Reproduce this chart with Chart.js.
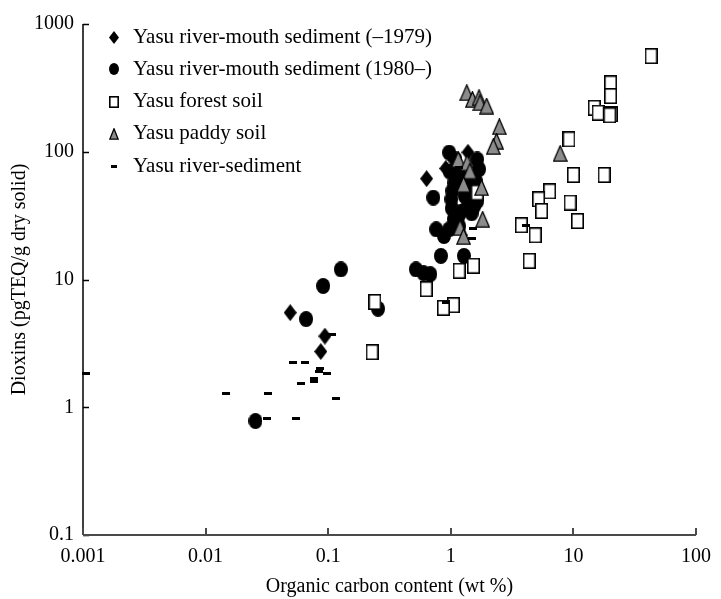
<!DOCTYPE html>
<html>
<head>
<meta charset="utf-8">
<script src="https://cdn.jsdelivr.net/npm/chart.js@4.4.1/dist/chart.umd.min.js"></script>
<style>
  html, body { margin: 0; padding: 0; background: #fff; }
  #wrap { width: 721px; height: 599px; position: relative; }
</style>
</head>
<body>
<div id="wrap"><canvas id="chart"></canvas></div>
<script>
// Axis ticks (decades only)
const xTicks = [0.001, 0.01, 0.1, 1, 10, 100];
const xTickLabels = ["0.001", "0.01", "0.1", "1", "10", "100"];
const yTicks = [0.1, 1, 10, 100, 1000];
const yTickLabels = ["0.1", "1", "10", "100", "1000"];

// Yasu river-mouth sediment (–1979)
const mouthOldX = [0.049, 0.094, 0.087, 0.635, 0.91, 1.38, 1.1];
const mouthOldY = [5.5, 3.6, 2.73, 61.6, 74, 99, 70];

// Yasu river-mouth sediment (1980–)
const mouthNewX = [0.0255, 0.066, 0.091, 0.127, 0.255,
  0.52, 0.6, 0.68, 0.72, 1.01, 0.76, 0.88, 0.83, 1.28,
  0.97, 1.09, 1.64, 1.7, 1.6, 1.24, 1.07, 1.03, 0.98,
  1.06, 1.2, 1.36, 1.55, 1.64, 0.97, 1.17, 1.3, 1.44, 1.15, 1.48, 1.02];
const mouthNewY = [0.78, 4.9, 8.9, 12.0, 5.9,
  12.0, 11.2, 11.0, 43.7, 42.4, 24.7, 21.9, 15.3, 15.3,
  98.5, 87, 87, 73, 59, 62.9, 57, 49.3, 70,
  29.6, 33.6, 36.7, 37.5, 41, 24.7, 26.1, 45, 53.7, 31, 33, 36];

// Yasu forest soil
const forestX = [43, 20.1, 20.1, 14.8, 15.9, 20.3, 19.8, 9.2, 10, 17.8, 6.4, 5.2, 5.5,
  9.4, 10.8, 3.76, 4.88, 4.36, 1.64, 1.53, 1.17, 0.63, 1.05, 0.87, 0.24, 0.228];
const forestY = [561, 343, 273, 221, 202, 196, 193, 125, 65.8, 65.8, 49, 42.4, 34.4,
  40, 28.7, 26.6, 22.2, 14, 47.9, 12.8, 11.7, 8.4, 6.3, 6.0, 6.67, 2.7];

// Yasu paddy soil
const paddyX = [1.35, 1.5, 1.7, 1.73, 1.96, 2.49, 2.36, 2.22, 7.8, 1.15, 1.36, 1.43,
  1.27, 1.78, 1.82, 1.19, 1.27];
const paddyY = [290, 257, 265, 242, 228, 157, 121, 110, 97, 87, 82, 70.6,
  55.6, 52.4, 29.6, 25.5, 21.7];

// Yasu river-sediment
const riverX = [0.00106, 0.0146, 0.032, 0.0318, 0.0546, 0.052, 0.065, 0.086, 0.084,
  0.098, 0.076, 0.076, 0.06, 0.115, 0.107, 4.1, 1.53, 1.5, 1.17, 0.91];
const riverY = [1.84, 1.29, 1.29, 0.81, 0.81, 2.26, 2.26, 2.0, 1.9,
  1.84, 1.69, 1.6, 1.54, 1.18, 3.68, 26.6, 25.2, 20.9, 75, 6.6];

const serif = "'Liberation Serif', 'Times New Roman', serif";

// small canvases used as point images
function makeMarker(w, h, paint) {
  const c = document.createElement("canvas");
  c.width = w;
  c.height = h;
  paint(c.getContext("2d"), w, h);
  return c;
}
const diamond = (w, h) => makeMarker(w, h, (g) => {
  g.fillStyle = "#000";
  g.beginPath();
  g.moveTo(w / 2, 0); g.lineTo(w, h / 2); g.lineTo(w / 2, h); g.lineTo(0, h / 2);
  g.closePath();
  g.fill();
});
const dot = (w, h) => makeMarker(w, h, (g) => {
  g.fillStyle = "#000";
  g.beginPath();
  g.ellipse(w / 2, h / 2, w / 2, h / 2, 0, 0, Math.PI * 2);
  g.fill();
});
const box = (w, h) => makeMarker(w, h, (g) => {
  g.fillStyle = "#fff";
  g.fillRect(0, 0, w, h);
  g.strokeStyle = "#000";
  g.lineWidth = 1.6;
  g.strokeRect(0.8, 0.8, w - 1.6, h - 1.6);
});
const tri = (w, h) => makeMarker(w, h, (g) => {
  g.fillStyle = "#8c8c8c";
  g.strokeStyle = "#000";
  g.lineWidth = 1.3;
  g.beginPath();
  g.moveTo(w / 2, 0.8); g.lineTo(w - 0.8, h - 0.8); g.lineTo(0.8, h - 0.8);
  g.closePath();
  g.fill();
  g.stroke();
});
const dash = (w, h) => makeMarker(w, h, (g) => {
  g.fillStyle = "#000";
  g.fillRect(0, 0, w, h);
});

const pts = (xs, ys) => xs.map((x, i) => ({ x, y: ys[i] }));

const series = [
  { label: "Yasu river-mouth sediment (\u20131979)", data: pts(mouthOldX, mouthOldY), pointStyle: diamond(13, 17), order: 3, key: diamond(10, 13) },
  { label: "Yasu river-mouth sediment (1980\u2013)", data: pts(mouthNewX, mouthNewY), pointStyle: dot(14, 16), order: 4, key: dot(10, 12) },
  { label: "Yasu forest soil", data: pts(forestX, forestY), pointStyle: box(13, 16), order: 2, key: box(10, 12) },
  { label: "Yasu paddy soil", data: pts(paddyX, paddyY), pointStyle: tri(15, 17), order: 1, key: tri(10, 12) },
  { label: "Yasu river-sediment", data: pts(riverX, riverY), pointStyle: dash(8, 3), order: 0, key: dash(6, 3) }
];

// axis lines and inward tick marks
const axesPlugin = {
  id: "axesPlugin",
  afterDraw(chart) {
    const { ctx, chartArea: a, scales } = chart;
    ctx.save();
    ctx.strokeStyle = "#000";
    ctx.lineWidth = 1.5;
    ctx.beginPath();
    ctx.moveTo(a.left, a.top); ctx.lineTo(a.left, a.bottom);
    yTicks.forEach((v) => {
      const y = Math.round(scales.y.getPixelForValue(v)) + 0.5;
      ctx.moveTo(a.left, y); ctx.lineTo(a.left + 6, y);
    });
    ctx.stroke();
    ctx.strokeStyle = "#4a4a4a";
    ctx.lineWidth = 2;
    ctx.beginPath();
    ctx.moveTo(a.left, a.bottom); ctx.lineTo(a.right, a.bottom);
    xTicks.forEach((v) => {
      const x = Math.round(scales.x.getPixelForValue(v));
      ctx.moveTo(x, a.bottom); ctx.lineTo(x, a.bottom - 7);
    });
    ctx.stroke();
    ctx.restore();
  }
};

// legend in the upper left of the plot
const keyPlugin = {
  id: "keyPlugin",
  afterDraw(chart) {
    const { ctx, chartArea: a } = chart;
    ctx.save();
    ctx.font = "21px " + serif;
    ctx.fillStyle = "#000";
    ctx.textBaseline = "middle";
    series.forEach((s, i) => {
      const y = a.top + 13 + i * 32.3;
      const img = s.key;
      ctx.drawImage(img, Math.round(a.left + 31 - img.width / 2), Math.round(y - img.height / 2));
      ctx.fillText(s.label, a.left + 50, y);
    });
    ctx.restore();
  }
};

new Chart(document.getElementById("chart"), {
  type: "scatter",
  data: {
    datasets: series.map((s) => ({
      label: s.label,
      data: s.data,
      pointStyle: s.pointStyle,
      pointRadius: 6,
      order: s.order,
      clip: false
    }))
  },
  options: {
    responsive: true,
    maintainAspectRatio: false,
    animation: false,
    events: [],
    layout: { padding: { top: 24, right: 21, left: 0, bottom: 0 } },
    plugins: { legend: { display: false }, tooltip: { enabled: false } },
    scales: {
      x: {
        type: "logarithmic",
        min: 0.001,
        max: 100,
        afterBuildTicks: (s) => { s.ticks = xTicks.map((v) => ({ value: v })); },
        afterFit: (s) => { s.height = 64; },
        grid: { display: false, drawTicks: false },
        border: { display: false },
        ticks: {
          color: "#000",
          font: { family: serif, size: 20 },
          padding: 10,
          maxRotation: 0,
          autoSkip: false,
          callback: (v, i) => xTickLabels[i]
        },
        title: {
          display: true,
          text: "Organic carbon content (wt %)",
          color: "#000",
          font: { family: serif, size: 20 },
          padding: { top: 0, bottom: 0 }
        }
      },
      y: {
        type: "logarithmic",
        min: 0.1,
        max: 1000,
        afterBuildTicks: (s) => { s.ticks = yTicks.map((v) => ({ value: v })); },
        afterFit: (s) => { s.width = 83; },
        grid: { display: false, drawTicks: false },
        border: { display: false },
        ticks: {
          color: "#000",
          font: { family: serif, size: 20 },
          padding: 9,
          autoSkip: false,
          callback: (v, i) => yTickLabels[i]
        },
        title: {
          display: true,
          text: "Dioxins (pgTEQ/g dry solid)",
          color: "#000",
          font: { family: serif, size: 20 },
          padding: { top: 8, bottom: 0 }
        }
      }
    }
  },
  plugins: [axesPlugin, keyPlugin]
});
</script>
</body>
</html>
